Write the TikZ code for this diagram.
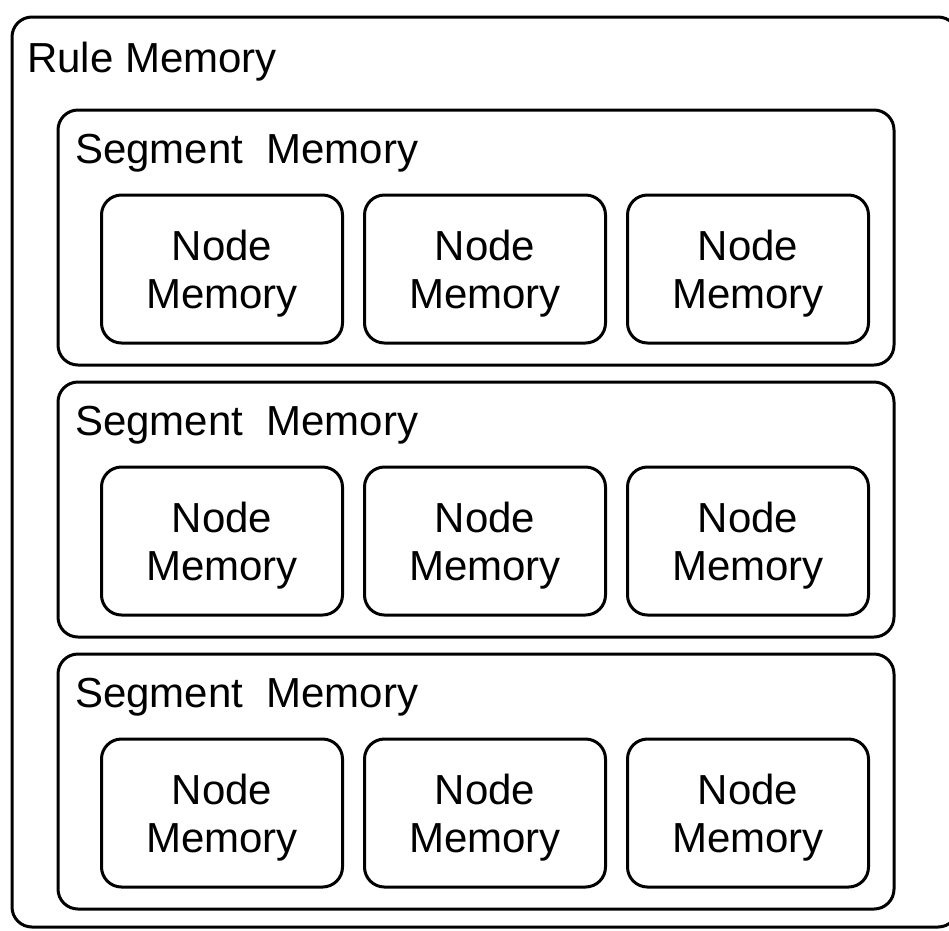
\documentclass[tikz,border=0pt]{standalone}
\usepackage{fontspec}
\setmainfont{Liberation Sans}
\usepackage{tikz}
\usetikzlibrary{positioning}

\begin{document}
\begin{tikzpicture}[
  x=1pt, y=-1pt,
  every node/.style={font=\fontsize{42}{48}\selectfont, inner sep=0pt},
  box/.style={draw, line width=3pt, rounded corners=20pt},
  rulebox/.style={box, minimum width=946pt, minimum height=910pt},
  segbox/.style={box, minimum width=836pt, minimum height=255pt},
  membox/.style={box, align=center, text depth=0pt, minimum width=241pt, minimum height=148pt},
  title/.style={anchor=base west}
]
\useasboundingbox (0,0) rectangle (949,930);
\node[rulebox] (rule) at (485,472) {};
\node[title] (rulelabel) at (27,72) {Rule Memory};
\foreach \s in {0,1,2} {
  \node[segbox] (seg\s) at (476,{237.5+272*\s}) {};
  \node[title] (seglabel\s) at (75,{163+272*\s}) {Segment\ \ Memory};
  \foreach \c in {0,1,2} {
    \node[membox] (mem\s\c) at ({222+263*\c},{269+272*\s}) {Node\\Memory};
  }
}
\end{tikzpicture}
\end{document}
